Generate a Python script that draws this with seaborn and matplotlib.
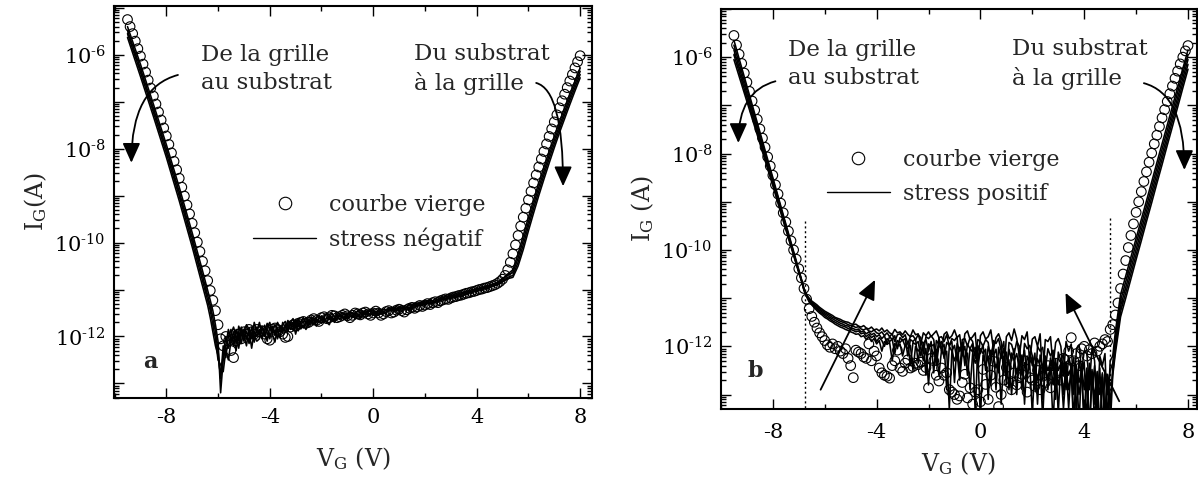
import numpy as np
import pandas as pd
import matplotlib
matplotlib.use("Agg")
import matplotlib.pyplot as plt
import seaborn as sns
from matplotlib.lines import Line2D
from matplotlib.ticker import LogLocator, MultipleLocator, FuncFormatter, NullFormatter

# ---------------------------------------------------------------- data
# sweep grid of the "courbe vierge" (virgin curve) points, V
V_circ = np.round(np.arange(-9.5, 8.05, 0.1), 2)          # 176 points

# panel a : virgin curve, log10(I_G / A)
circ_a = [
    -5.25, -5.4, -5.55, -5.71, -5.87, -6.03, -6.2, -6.37, -6.54, -6.71,
    -6.88, -7.05, -7.22, -7.39, -7.56, -7.73, -7.91, -8.09, -8.27, -8.45,
    -8.63, -8.82, -9.01, -9.2, -9.39, -9.59, -9.79, -9.99, -10.19, -10.4,
    -10.6, -10.81, -11.02, -11.23, -11.45, -11.75, -12.05, -12.2, -12.0, -12.1,
    -12.3, -12.45, -12.1, -11.95, -12.05, -11.9, -11.95, -11.85, -11.9, -11.95,
    -11.85, -11.9, -11.88, -11.95, -12.05, -12.08, -11.85, -11.82, -11.85, -11.9,
    -11.95, -12.02, -12.0, -11.8, -11.75, -11.78, -11.72, -11.7, -11.68, -11.72,
    -11.7, -11.65, -11.62, -11.66, -11.68, -11.6, -11.58, -11.62, -11.6, -11.55,
    -11.56, -11.6, -11.58, -11.55, -11.52, -11.56, -11.6, -11.55, -11.5, -11.52,
    -11.54, -11.5, -11.48, -11.52, -11.55, -11.5, -11.46, -11.5, -11.55, -11.52,
    -11.47, -11.45, -11.5, -11.48, -11.44, -11.42, -11.45, -11.48, -11.43, -11.4,
    -11.38, -11.4, -11.37, -11.34, -11.36, -11.33, -11.3, -11.32, -11.28, -11.26,
    -11.28, -11.24, -11.22, -11.2, -11.21, -11.18, -11.16, -11.15, -11.13, -11.12,
    -11.1, -11.08, -11.07, -11.05, -11.04, -11.02, -11.0, -10.99, -10.97, -10.96,
    -10.94, -10.92, -10.9, -10.87, -10.83, -10.78, -10.7, -10.58, -10.42, -10.24,
    -10.05, -9.85, -9.65, -9.46, -9.27, -9.09, -8.91, -8.73, -8.56, -8.39,
    -8.22, -8.06, -7.9, -7.74, -7.58, -7.43, -7.28, -7.13, -6.98, -6.84,
    -6.7, -6.56, -6.42, -6.28, -6.15, -6.02,
]

# panel b : virgin curve, log10(I_G / A)
circ_b = [
    -5.55, -5.75, -5.94, -6.13, -6.33, -6.52, -6.71, -6.91, -7.1, -7.29,
    -7.49, -7.68, -7.87, -8.07, -8.26, -8.45, -8.65, -8.84, -9.03, -9.23,
    -9.42, -9.61, -9.81, -10.0, -10.19, -10.39, -10.58, -10.8, -11.02, -11.22,
    -11.38, -11.5, -11.62, -11.72, -11.8, -11.88, -11.97, -12.02, -11.95, -12.05,
    -12.0, -12.1, -12.15, -12.05, -12.25, -12.4, -12.65, -12.08, -12.12, -12.15,
    -12.22, -12.25, -11.95, -12.3, -12.1, -12.2, -12.45, -12.55, -12.6, -12.62,
    -12.66, -12.4, -12.3, -12.08, -12.45, -12.52, -12.35, -12.28, -12.45, -12.42,
    -12.35, -12.38, -12.33, -12.5, -12.44, -12.86, -12.25, -12.3, -12.6, -12.72,
    -12.45, -12.6, -12.55, -12.9, -12.95, -13.0, -13.1, -13.03, -12.75, -12.58,
    -13.07, -12.86, -13.2, -12.95, -12.9, -13.15, -12.48, -12.79, -13.1, -12.6,
    -12.31, -12.85, -13.25, -13.0, -12.7, -12.44, -12.75, -12.9, -12.55, -12.8,
    -12.65, -12.58, -12.3, -12.95, -12.65, -12.7, -12.83, -12.5, -12.9, -12.62,
    -12.75, -12.4, -12.86, -12.6, -12.35, -12.55, -12.7, -12.25, -12.45, -12.1,
    -11.82, -12.3, -12.15, -12.4, -12.05, -12.0, -12.2, -12.07, -12.15, -11.93,
    -12.1, -12.0, -11.95, -11.86, -11.9, -11.65, -11.55, -11.35, -11.1, -10.8,
    -10.5, -10.22, -9.95, -9.7, -9.46, -9.22, -9.0, -8.79, -8.58, -8.38,
    -8.18, -7.99, -7.8, -7.62, -7.44, -7.26, -7.09, -6.92, -6.76, -6.6,
    -6.44, -6.29, -6.14, -6.0, -5.87, -5.76,
]

# stressed curves: sweep grids (V)
Va_left = [-9.5, -9.0, -8.5, -8.0, -7.5, -7.0, -6.6]
Va_mid = np.round(np.arange(-6.4, 5.25, 0.1), 2)          # 117 points
Vb_left = [-9.5, -9.0, -8.5, -8.0, -7.5, -7.0]
Vb_mid = np.round(np.arange(-6.9, 5.25, 0.1), 2)          # 122 points
V_right = np.round(np.arange(5.4, 8.05, 0.2), 2)          # 14 points

# panel a : "stress négatif" curves, log10(I_G / A)
a1_left = [-5.4, -6.2, -7.05, -7.91, -8.82, -9.79, -10.6]
a1_mid = [
    -11.02, -11.23, -11.45, -11.75, -12.1, -13.2, -12.5, -12.2, -11.85, -12.1,
    -11.9, -12.15, -11.78, -11.95, -12.1, -11.75, -11.85, -12.05, -11.7, -11.9,
    -11.7, -11.95, -11.9, -11.72, -11.85, -11.78, -11.98, -11.7, -11.82, -11.75,
    -11.68, -11.85, -11.7, -11.62, -11.8, -11.62, -11.73, -11.69, -11.6, -11.7,
    -11.58, -11.66, -11.6, -11.55, -11.65, -11.57, -11.52, -11.62, -11.5, -11.58,
    -11.54, -11.58, -11.49, -11.53, -11.56, -11.47, -11.5, -11.54, -11.45, -11.5,
    -11.46, -11.5, -11.44, -11.48, -11.42, -11.58, -11.41, -11.46, -11.42, -11.45,
    -11.38, -11.43, -11.4, -11.36, -11.41, -11.34, -11.37, -11.39, -11.31, -11.35,
    -11.3, -11.33, -11.27, -11.3, -11.24, -11.27, -11.23, -11.25, -11.19, -11.22,
    -11.17, -11.2, -11.14, -11.16, -11.11, -11.14, -11.08, -11.11, -11.06, -11.08,
    -11.03, -11.05, -11.0, -11.02, -10.97, -10.99, -10.94, -10.96, -10.91, -10.92,
    -10.88, -10.87, -10.84, -10.81, -10.77, -10.72, -10.67,
]
a1_right = [-10.58, -10.24, -9.85, -9.46, -9.09, -8.73, -8.39, -8.06, -7.74, -7.43, -7.13, -6.84, -6.56, -6.28]

a2_left = [-5.48, -6.29, -7.14, -8.0, -8.92, -9.89, -10.71]
a2_mid = [
    -11.13, -11.34, -11.6, -11.9, -12.3, -12.9, -12.2, -12.45, -12.0, -11.85,
    -12.2, -11.85, -12.1, -11.8, -11.98, -12.2, -11.82, -11.95, -12.12, -11.8,
    -11.95, -11.78, -12.0, -11.8, -11.7, -11.92, -11.75, -11.88, -12.02, -11.7,
    -11.82, -11.66, -11.75, -11.86, -11.64, -11.78, -11.68, -11.6, -11.74, -11.66,
    -11.72, -11.6, -11.68, -11.62, -11.56, -11.7, -11.6, -11.64, -11.58, -11.66,
    -11.6, -11.52, -11.58, -11.62, -11.5, -11.56, -11.6, -11.48, -11.55, -11.52,
    -11.52, -11.45, -11.5, -11.55, -11.48, -11.46, -11.52, -11.44, -11.5, -11.42,
    -11.44, -11.38, -11.42, -11.46, -11.37, -11.4, -11.43, -11.36, -11.4, -11.34,
    -11.34, -11.29, -11.33, -11.27, -11.31, -11.25, -11.29, -11.26, -11.24, -11.21,
    -11.2, -11.16, -11.19, -11.13, -11.16, -11.1, -11.13, -11.09, -11.11, -11.05,
    -11.06, -11.02, -11.04, -10.99, -11.01, -10.96, -10.98, -10.94, -10.95, -10.9,
    -10.9, -10.88, -10.86, -10.83, -10.79, -10.74, -10.7,
]
a2_right = [-10.64, -10.33, -9.95, -9.56, -9.18, -8.82, -8.48, -8.14, -7.82, -7.51, -7.21, -6.91, -6.63, -6.35]

a3_left = [-5.55, -6.37, -7.22, -8.09, -9.01, -9.99, -10.81]
a3_mid = [
    -11.23, -11.45, -11.75, -12.05, -12.5, -12.6, -12.75, -12.3, -12.5, -12.1,
    -12.0, -12.3, -11.9, -12.15, -11.85, -12.05, -11.88, -12.25, -11.9, -12.0,
    -11.85, -12.05, -11.76, -11.92, -12.05, -11.8, -11.9, -12.05, -11.78, -11.92,
    -11.75, -11.9, -11.72, -11.8, -11.7, -11.88, -11.75, -11.82, -11.68, -11.78,
    -11.64, -11.75, -11.62, -11.7, -11.65, -11.6, -11.72, -11.58, -11.68, -11.62,
    -11.55, -11.64, -11.56, -11.5, -11.6, -11.54, -11.5, -11.62, -11.52, -11.58,
    -11.48, -11.54, -11.47, -11.44, -11.52, -11.5, -11.45, -11.53, -11.47, -11.5,
    -11.41, -11.46, -11.38, -11.43, -11.45, -11.39, -11.42, -11.37, -11.44, -11.38,
    -11.32, -11.36, -11.3, -11.34, -11.28, -11.3, -11.26, -11.3, -11.25, -11.27,
    -11.22, -11.19, -11.21, -11.16, -11.18, -11.14, -11.16, -11.12, -11.14, -11.1,
    -11.08, -11.05, -11.06, -11.02, -11.03, -10.99, -11.0, -10.96, -10.97, -10.93,
    -10.91, -10.9, -10.88, -10.85, -10.82, -10.78, -10.74,
]
a3_right = [-10.7, -10.42, -10.05, -9.65, -9.27, -8.91, -8.56, -8.22, -7.9, -7.58, -7.28, -6.98, -6.7, -6.42]

a4_left = [-5.63, -6.46, -7.31, -8.18, -9.11, -10.09, -10.92]
a4_mid = [
    -11.34, -11.6, -11.9, -12.2, -12.4, -12.85, -12.4, -12.0, -12.25, -11.95,
    -11.8, -12.0, -12.25, -11.86, -12.0, -11.9, -12.15, -11.8, -12.0, -12.1,
    -12.05, -11.82, -11.9, -12.1, -11.8, -11.95, -12.12, -11.82, -11.9, -11.8,
    -11.9, -11.74, -11.85, -11.7, -11.95, -11.72, -11.84, -11.76, -11.85, -11.7,
    -11.7, -11.62, -11.78, -11.66, -11.72, -11.64, -11.7, -11.75, -11.62, -11.7,
    -11.62, -11.55, -11.6, -11.57, -11.64, -11.58, -11.55, -11.6, -11.56, -11.62,
    -11.55, -11.5, -11.56, -11.5, -11.54, -11.48, -11.55, -11.5, -11.52, -11.48,
    -11.46, -11.42, -11.48, -11.41, -11.44, -11.47, -11.4, -11.44, -11.38, -11.42,
    -11.37, -11.33, -11.35, -11.31, -11.33, -11.29, -11.31, -11.27, -11.28, -11.24,
    -11.24, -11.21, -11.23, -11.19, -11.2, -11.17, -11.18, -11.14, -11.16, -11.12,
    -11.1, -11.07, -11.08, -11.04, -11.05, -11.01, -11.02, -10.98, -10.99, -10.96,
    -10.93, -10.92, -10.9, -10.87, -10.84, -10.8, -10.77,
]
a4_right = [-10.74, -10.5, -10.15, -9.75, -9.37, -9.0, -8.65, -8.31, -7.98, -7.66, -7.36, -7.06, -6.77, -6.49]

# panel b : "stress positif" curves, log10(I_G / A)
b1_left = [-5.65, -6.6, -7.55, -8.5, -9.46, -10.41]
b1_mid = [
    -10.6, -10.8, -10.93, -11.0, -11.06, -11.1, -11.14, -11.19, -11.23, -11.27,
    -11.3, -11.33, -11.36, -11.4, -11.42, -11.44, -11.47, -11.49, -11.5, -11.53,
    -11.55, -11.54, -11.58, -11.6, -11.57, -11.62, -11.64, -11.6, -11.66, -11.64,
    -11.68, -11.62, -11.7, -11.66, -11.72, -11.75, -11.65, -11.72, -11.7, -11.76,
    -11.68, -11.75, -11.8, -11.66, -11.76, -11.74, -11.95, -11.72, -11.78, -11.7,
    -11.8, -11.74, -11.68, -11.82, -12.1, -11.75, -11.7, -11.84, -11.78, -11.66,
    -11.82, -11.76, -12.2, -11.74, -11.68, -11.86, -11.8, -11.72, -12.4, -11.78,
    -11.7, -11.85, -11.8, -11.66, -12.05, -11.82, -11.74, -11.9, -12.6, -11.8,
    -11.72, -11.88, -11.64, -11.84, -12.2, -11.78, -11.86, -11.7, -12.3, -11.85,
    -11.8, -12.0, -11.74, -12.7, -11.86, -11.9, -11.8, -12.4, -11.92, -11.84,
    -12.0, -12.6, -11.9, -12.1, -11.95, -13.0, -12.05, -11.98, -12.5, -12.1,
    -12.15, -12.8, -12.05, -12.3, -13.5, -12.2, -12.4, -12.15, -13.6, -12.3, -12.2, -11.7,
]
b1_right = [-10.93, -10.54, -10.15, -9.76, -9.37, -8.98, -8.59, -8.19, -7.8, -7.41, -7.02, -6.63, -6.24, -5.85]

b2_left = [-5.75, -6.68, -7.61, -8.54, -9.49, -10.43]
b2_mid = [
    -10.61, -10.81, -10.94, -11.02, -11.08, -11.13, -11.17, -11.22, -11.26, -11.3,
    -11.33, -11.36, -11.4, -11.42, -11.45, -11.48, -11.5, -11.52, -11.55, -11.57,
    -11.58, -11.61, -11.59, -11.64, -11.66, -11.63, -11.68, -11.7, -11.66, -11.72,
    -11.74, -11.7, -11.78, -11.72, -11.8, -11.74, -11.9, -11.76, -11.74, -11.82,
    -11.76, -11.95, -11.8, -11.78, -11.86, -11.76, -11.82, -12.15, -11.8, -11.84,
    -11.78, -11.86, -12.3, -11.82, -11.8, -11.9, -11.76, -12.0, -11.84, -11.88,
    -11.8, -12.55, -11.86, -11.84, -12.0, -11.82, -11.9, -12.25, -11.86, -11.9,
    -12.0, -11.86, -11.92, -12.35, -11.88, -11.94, -11.84, -12.1, -11.9, -12.8,
    -11.92, -11.96, -12.15, -11.9, -12.0, -12.6, -11.94, -12.05, -11.98, -12.2,
    -12.9, -12.0, -12.1, -12.02, -12.5, -12.05, -12.2, -12.08, -13.1, -12.12,
    -12.3, -12.15, -12.9, -12.2, -12.45, -12.25, -13.4, -12.3, -12.6, -12.32,
    -13.6, -12.35, -12.9, -12.4, -13.3, -12.45, -13.7, -12.5, -13.0, -12.5, -12.35, -11.85,
]
b2_right = [-11.05, -10.66, -10.27, -9.87, -9.48, -9.09, -8.7, -8.3, -7.91, -7.52, -7.13, -6.73, -6.34, -5.95]

b3_left = [-5.85, -6.76, -7.67, -8.58, -9.52, -10.45]
b3_mid = [
    -10.62, -10.82, -10.95, -11.04, -11.1, -11.15, -11.2, -11.25, -11.29, -11.33,
    -11.36, -11.4, -11.43, -11.46, -11.49, -11.52, -11.54, -11.57, -11.58, -11.62,
    -11.63, -11.66, -11.64, -11.7, -11.68, -11.74, -11.7, -11.76, -11.73, -11.8,
    -11.76, -11.84, -11.78, -11.95, -11.8, -11.86, -11.78, -12.05, -11.82, -11.88,
    -11.84, -12.2, -11.86, -11.9, -11.84, -12.35, -11.88, -11.94, -11.86, -12.1,
    -11.9, -12.55, -11.88, -11.96, -11.9, -12.25, -11.92, -11.98, -11.9, -12.75,
    -11.94, -12.1, -11.92, -12.4, -11.96, -12.05, -11.94, -13.4, -11.98, -12.15,
    -11.96, -12.5, -12.0, -12.2, -11.98, -12.9, -12.02, -12.25, -12.04, -12.6,
    -12.06, -12.3, -12.05, -13.0, -12.1, -12.35, -12.08, -12.7, -12.12, -12.4,
    -12.14, -13.2, -12.18, -12.45, -12.2, -12.9, -12.24, -12.5, -12.26, -13.4,
    -12.3, -12.6, -12.32, -13.3, -12.36, -12.7, -12.4, -13.6, -12.42, -12.9,
    -12.45, -13.7, -12.48, -13.1, -12.52, -13.8, -12.55, -13.4, -12.58, -13.3, -12.45, -11.95,
]
b3_right = [-11.17, -10.78, -10.38, -9.99, -9.59, -9.2, -8.81, -8.41, -8.02, -7.63, -7.23, -6.84, -6.44, -6.05]

b4_left = [-5.95, -6.84, -7.73, -8.62, -9.55, -10.46]
b4_mid = [
    -10.63, -10.83, -10.96, -11.06, -11.12, -11.18, -11.23, -11.28, -11.32, -11.36,
    -11.4, -11.43, -11.47, -11.5, -11.53, -11.56, -11.58, -11.6, -11.63, -11.65,
    -11.67, -11.7, -11.68, -11.74, -11.72, -11.8, -11.75, -11.82, -11.78, -11.9,
    -11.82, -11.88, -12.0, -11.84, -11.9, -11.85, -12.15, -11.88, -11.92, -11.86,
    -12.0, -11.9, -12.4, -11.92, -11.96, -11.9, -12.2, -11.94, -12.6, -11.95,
    -12.0, -11.96, -12.4, -11.98, -12.05, -11.96, -12.9, -12.0, -12.1, -11.98,
    -12.3, -12.02, -12.15, -12.0, -12.6, -12.04, -12.12, -12.02, -12.45, -12.05,
    -12.15, -12.06, -13.1, -12.08, -12.2, -12.06, -12.55, -12.1, -12.25, -12.12,
    -12.9, -12.14, -12.3, -12.15, -12.5, -12.18, -13.2, -12.2, -12.35, -12.22,
    -12.6, -12.26, -12.4, -13.5, -12.3, -12.5, -12.32, -12.8, -12.34, -12.5,
    -12.38, -13.0, -12.4, -12.6, -12.44, -13.5, -12.46, -12.75, -12.48, -13.7,
    -12.5, -12.9, -12.52, -13.6, -12.55, -13.0, -12.58, -13.8, -12.6, -13.2, -12.55, -12.05,
]
b4_right = [-11.28, -10.89, -10.49, -10.1, -9.7, -9.31, -8.91, -8.52, -8.12, -7.73, -7.33, -6.94, -6.54, -6.15]

b5_left = [-6.05, -6.92, -7.79, -8.67, -9.58, -10.47]
b5_mid = [
    -10.64, -10.84, -10.97, -11.08, -11.14, -11.2, -11.26, -11.31, -11.35, -11.4,
    -11.43, -11.47, -11.5, -11.54, -11.57, -11.6, -11.62, -11.65, -11.67, -11.7,
    -11.72, -11.75, -11.74, -11.8, -11.78, -11.86, -11.8, -11.9, -11.84, -11.95,
    -11.88, -12.1, -11.9, -11.96, -11.92, -12.3, -11.94, -12.0, -11.95, -12.2,
    -11.98, -12.05, -11.98, -12.5, -12.0, -12.1, -12.02, -12.3, -12.04, -12.8,
    -12.05, -12.15, -12.06, -12.6, -12.08, -12.2, -12.1, -13.3, -12.1, -12.3,
    -12.12, -12.7, -12.12, -12.25, -12.14, -12.9, -12.15, -12.35, -12.16, -13.5,
    -12.18, -12.4, -12.2, -12.8, -12.22, -12.45, -12.24, -13.2, -12.26, -12.5,
    -12.28, -13.0, -12.3, -12.55, -12.32, -12.9, -12.34, -12.6, -12.36, -13.4,
    -12.38, -12.7, -12.4, -13.1, -12.42, -12.75, -12.44, -13.6, -12.46, -12.8,
    -12.48, -13.3, -12.5, -12.9, -12.52, -13.8, -12.54, -13.0, -12.56, -13.5,
    -12.58, -13.9, -12.6, -13.2, -12.62, -13.9, -12.64, -13.4, -12.66, -13.7, -12.6, -12.15,
]
b5_right = [-11.39, -11.0, -10.6, -10.2, -9.81, -9.41, -9.02, -8.62, -8.23, -7.83, -7.44, -7.04, -6.64, -6.25]

labels_a = ["courbe vierge", "stress négatif"]
labels_b = ["courbe vierge", "stress positif"]
y_tick_exponents = [-6, -8, -10, -12]


def lines_frame(grid_parts, curves):
    V = np.concatenate([np.asarray(p, float) for p in grid_parts])
    frames = []
    for name, parts in curves.items():
        vals = np.concatenate([np.asarray(p, float) for p in parts])
        frames.append(pd.DataFrame({"V": V, "logI": vals, "curve": name}))
    df = pd.concat(frames, ignore_index=True)
    df["I"] = 10.0 ** df["logI"]
    return df


lines_a = lines_frame([Va_left, Va_mid, V_right],
                      {"s1": [a1_left, a1_mid, a1_right],
                       "s2": [a2_left, a2_mid, a2_right],
                       "s3": [a3_left, a3_mid, a3_right],
                       "s4": [a4_left, a4_mid, a4_right]})
lines_b = lines_frame([Vb_left, Vb_mid, V_right],
                      {"s1": [b1_left, b1_mid, b1_right],
                       "s2": [b2_left, b2_mid, b2_right],
                       "s3": [b3_left, b3_mid, b3_right],
                       "s4": [b4_left, b4_mid, b4_right],
                       "s5": [b5_left, b5_mid, b5_right]})
circ_df_a = pd.DataFrame({"V": V_circ, "I": 10.0 ** np.asarray(circ_a)})
circ_df_b = pd.DataFrame({"V": V_circ, "I": 10.0 ** np.asarray(circ_b)})

# ---------------------------------------------------------------- style
sns.set_theme(style="ticks")
plt.rcParams["font.family"] = ["DejaVu Serif"]
plt.rcParams["mathtext.fontset"] = "dejavuserif"
plt.rcParams["axes.unicode_minus"] = False

fig = plt.figure(figsize=(11.98, 4.87), dpi=100)
axa = fig.add_axes([0.0952, 0.1828, 0.399, 0.805])
axb = fig.add_axes([0.6018, 0.1602, 0.397, 0.8214])


def yfmt(y, pos):
    e = int(round(np.log10(y)))
    if e not in y_tick_exponents:
        return ""
    return "$10^{\u2010" + str(abs(e)) + "}$"


ARROW = dict(arrowstyle="-|>,head_length=0.6,head_width=0.27", color="black",
             lw=1.3, shrinkA=0, shrinkB=0, mutation_scale=20)


def panel(ax, circ_df, lines_df, labels, xlim, ylim_exp, ylabel, xpad, tpad):
    ax.set_yscale("log")
    sns.lineplot(data=lines_df, x="V", y="I", units="curve", estimator=None,
                 sort=False, color="black", lw=1.15, ax=ax, legend=False)
    sns.scatterplot(data=circ_df, x="V", y="I", marker="o", s=48,
                    facecolor="none", edgecolor="black", linewidth=0.8,
                    ax=ax, legend=False, zorder=3)
    ax.set_xlim(*xlim)
    ax.set_ylim(10.0 ** ylim_exp[0], 10.0 ** ylim_exp[1])
    ax.yaxis.set_major_locator(LogLocator(base=10, numticks=30))
    ax.yaxis.set_minor_locator(LogLocator(base=10, subs=np.arange(2, 10), numticks=30))
    ax.yaxis.set_major_formatter(FuncFormatter(yfmt))
    ax.yaxis.set_minor_formatter(NullFormatter())
    ax.xaxis.set_major_locator(MultipleLocator(4))
    ax.xaxis.set_minor_locator(MultipleLocator(2))
    ax.tick_params(which="both", direction="in", top=True, right=True,
                   width=1.0, color="black", labelsize=15, labelcolor="black")
    ax.tick_params(which="major", length=7)
    ax.tick_params(axis="x", which="major", pad=tpad)
    ax.tick_params(axis="y", which="major", pad=6)
    ax.tick_params(which="minor", length=3.5)
    for s in ax.spines.values():
        s.set_linewidth(1.5)
        s.set_color("black")
    ax.set_xlabel(r"V$_\mathregular{G}$ (V)", fontsize=17, labelpad=xpad)
    ax.set_ylabel(ylabel, fontsize=17, labelpad=4)
    h_c = Line2D([], [], ls="none", marker="o", ms=9, mfc="none", mec="black", mew=0.8)
    h_l = Line2D([], [], color="black", lw=1.0)
    return [h_c, h_l]


# ---------------------------------------------------------------- panel a
h = panel(axa, circ_df_a, lines_a, labels_a, (-10.02, 8.46), (-13.31, -4.96),
          r"I$_\mathregular{G}$(A)", 13, 7)
axa.legend(h, labels_a, loc="center left", bbox_to_anchor=(-4.63, 10 ** -9.57),
           bbox_transform=axa.transData, frameon=False, fontsize=16,
           handlelength=2.8, handletextpad=0.6, labelspacing=0.55,
           borderpad=0, borderaxespad=0)
axa.text(-6.65, 10 ** -6.3, "De la grille\nau substrat", ha="left", va="center",
         fontsize=16.5, linespacing=1.35)
axa.text(1.58, 10 ** -6.3, "Du substrat\nà la grille", ha="left", va="center",
         fontsize=16.5, linespacing=1.35)
axa.text(-8.6, 10 ** -12.55, "a", fontweight="bold", fontsize=16, ha="center", va="center")
axa.annotate("", xy=(-9.35, 10 ** -8.3), xytext=(-7.55, 10 ** -6.43),
             arrowprops={**ARROW, "connectionstyle": "angle3,angleA=15,angleB=90"})
axa.annotate("", xy=(7.34, 10 ** -8.8), xytext=(6.3, 10 ** -6.6),
             arrowprops={**ARROW, "connectionstyle": "angle3,angleA=-15,angleB=90"})

# ---------------------------------------------------------------- panel b
h = panel(axb, circ_df_b, lines_b, labels_b, (-10.0, 8.33), (-13.3, -5.0),
          r"I$_\mathregular{G}$ (A)", 6, 10)
axb.legend(h, labels_b, loc="center left", bbox_to_anchor=(-5.9, 10 ** -8.48),
           bbox_transform=axb.transData, frameon=False, fontsize=16,
           handlelength=2.8, handletextpad=0.6, labelspacing=0.55,
           borderpad=0, borderaxespad=0)
axb.text(-7.41, 10 ** -6.14, "De la grille\nau substrat", ha="left", va="center",
         fontsize=16.5, linespacing=1.35)
axb.text(1.22, 10 ** -6.14, "Du substrat\nà la grille", ha="left", va="center",
         fontsize=16.5, linespacing=1.35)
axb.text(-8.66, 10 ** -12.52, "b", fontweight="bold", fontsize=16, ha="center", va="center")
axb.plot([-6.75, -6.75], [10 ** -9.4, 10 ** -13.3], ls=(0, (1.5, 2)), lw=1.0, color="black")
axb.plot([4.98, 4.98], [10 ** -9.34, 10 ** -13.3], ls=(0, (1.5, 2)), lw=1.0, color="black")
axb.annotate("", xy=(-9.33, 10 ** -7.78), xytext=(-7.9, 10 ** -6.5),
             arrowprops={**ARROW, "connectionstyle": "angle3,angleA=15,angleB=90"})
axb.annotate("", xy=(7.86, 10 ** -8.34), xytext=(6.3, 10 ** -6.54),
             arrowprops={**ARROW, "connectionstyle": "angle3,angleA=-15,angleB=90"})
axb.annotate("", xy=(-4.06, 10 ** -10.62), xytext=(-6.16, 10 ** -12.9), arrowprops=ARROW)
axb.annotate("", xy=(3.28, 10 ** -10.89), xytext=(5.35, 10 ** -13.14), arrowprops=ARROW)

fig.savefig("out.png", dpi=100)
